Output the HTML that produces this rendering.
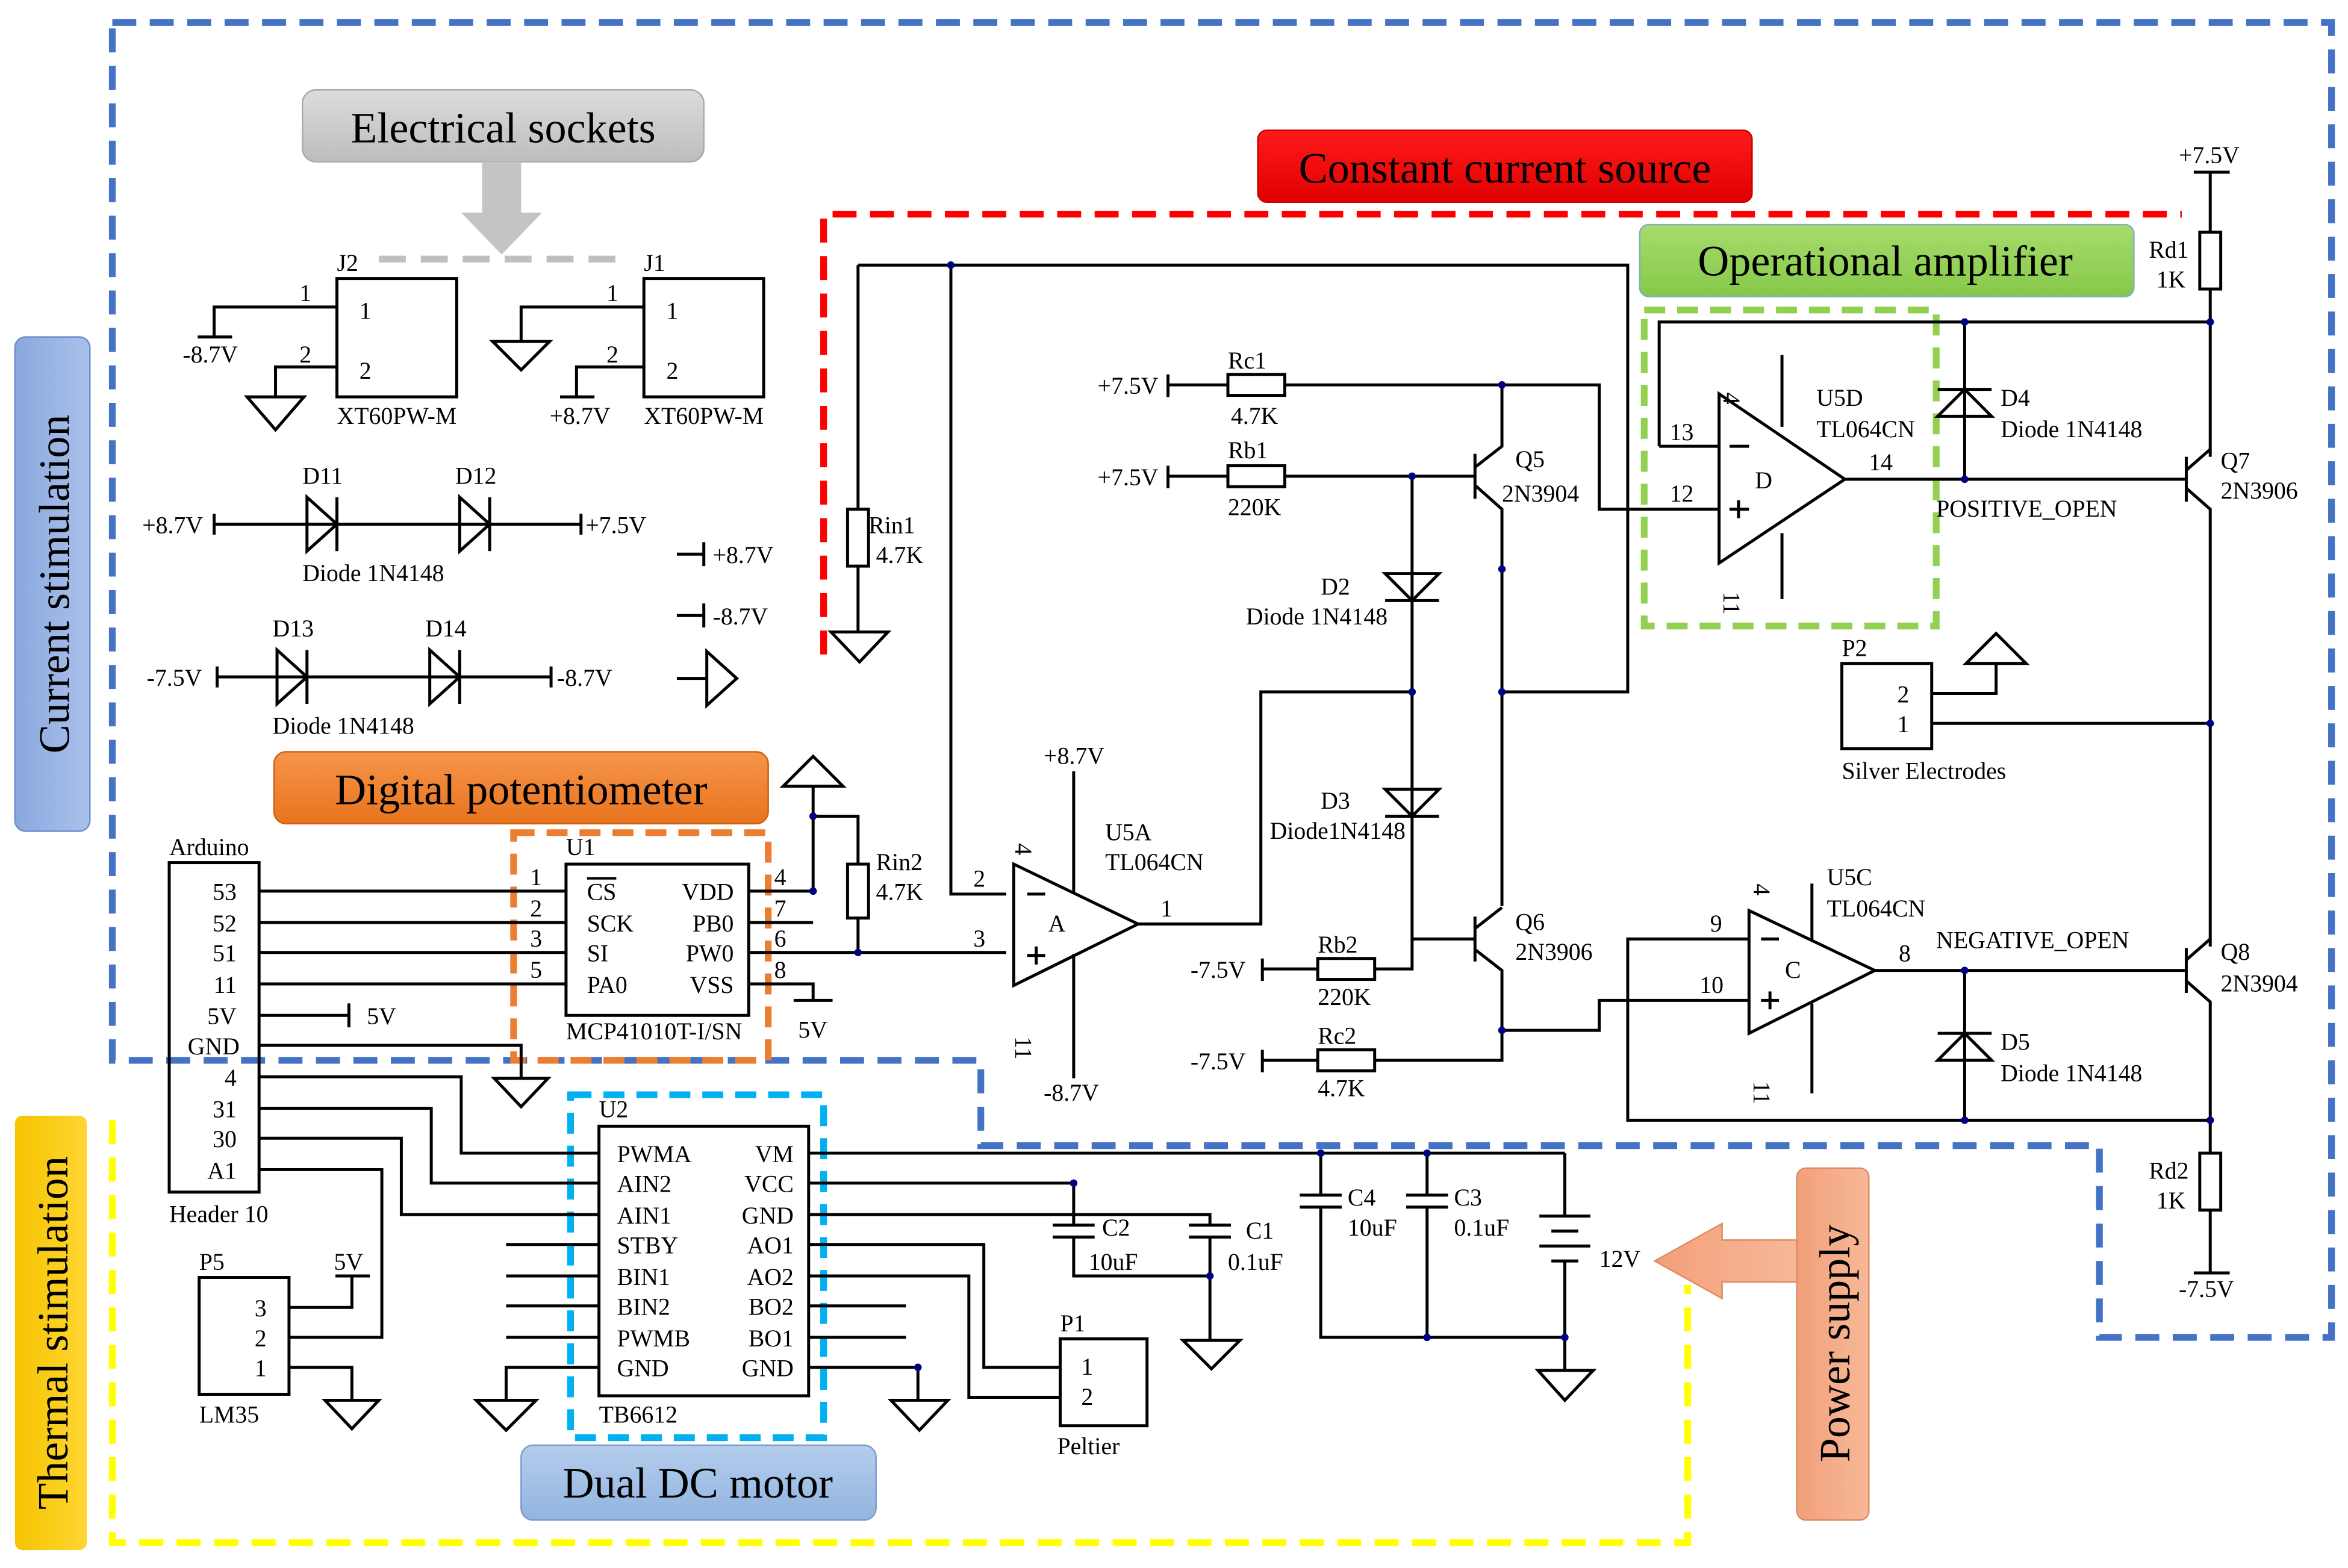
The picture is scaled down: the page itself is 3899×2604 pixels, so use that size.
<!DOCTYPE html>
<html><head><meta charset="utf-8"><style>
html,body{margin:0;padding:0;background:#fff;}
svg{display:block;}
text{font-family:"Liberation Serif",serif;fill:#000;}
</style></head><body>
<svg width="3899" height="2604" viewBox="0 0 1568 1047" preserveAspectRatio="none" xmlns="http://www.w3.org/2000/svg">
<defs>
<linearGradient id="gg" x1="0" y1="0" x2="0" y2="1"><stop offset="0" stop-color="#dcdcdc"/><stop offset="1" stop-color="#bdbdbd"/></linearGradient>
<linearGradient id="gr" x1="0" y1="0" x2="0" y2="1"><stop offset="0" stop-color="#ff1a1a"/><stop offset="1" stop-color="#e00000"/></linearGradient>
<linearGradient id="ggr" x1="0" y1="0" x2="0" y2="1"><stop offset="0" stop-color="#a6dc6a"/><stop offset="1" stop-color="#86c84a"/></linearGradient>
<linearGradient id="go" x1="0" y1="0" x2="0" y2="1"><stop offset="0" stop-color="#f5954a"/><stop offset="1" stop-color="#e8741e"/></linearGradient>
<linearGradient id="gb" x1="0" y1="0" x2="0" y2="1"><stop offset="0" stop-color="#b4cdec"/><stop offset="1" stop-color="#93b4e0"/></linearGradient>
<linearGradient id="gbv" x1="0" y1="0" x2="1" y2="0"><stop offset="0" stop-color="#8aa8de"/><stop offset="1" stop-color="#a9c0ea"/></linearGradient>
<linearGradient id="gy" x1="0" y1="0" x2="1" y2="0"><stop offset="0" stop-color="#f5c400"/><stop offset="1" stop-color="#ffd633"/></linearGradient>
<linearGradient id="gs" x1="0" y1="0" x2="1" y2="0"><stop offset="0" stop-color="#f2a07a"/><stop offset="1" stop-color="#f7b898"/></linearGradient>
</defs>

<!-- dashed region borders -->
<path d="M75,15 H1557 V893 H1402 V765 H655 V708 H75 Z" fill="none" stroke="#4472C4" stroke-width="4.5" stroke-dasharray="16,9"/>
<path d="M550,437 V143 H1457" fill="none" stroke="#ff0000" stroke-width="4.5" stroke-dasharray="16,9"/>
<rect x="1098" y="207" width="195" height="211" fill="none" stroke="#92D050" stroke-width="4.5" stroke-dasharray="14,8"/>
<rect x="343" y="556" width="170" height="152" fill="none" stroke="#ED7D31" stroke-width="4.5" stroke-dasharray="14,8"/>
<rect x="381" y="731" width="169" height="229" fill="none" stroke="#00B0F0" stroke-width="4.5" stroke-dasharray="14,8"/>
<path d="M75,748 V1030 H1127 V858" fill="none" stroke="#ffff00" stroke-width="4.5" stroke-dasharray="16,9"/>
<line x1="253" y1="173" x2="415" y2="173" stroke="#bfbfbf" stroke-width="4.5" stroke-dasharray="18,10"/>

<!-- Labels -->
<rect x="202" y="60" width="268" height="48" rx="9" fill="url(#gg)" stroke="#aaa"/>
<text x="336" y="95" font-size="29" text-anchor="middle">Electrical sockets</text>
<polygon points="322,108 348,108 348,142 362,142 335,170 308,142 322,142" fill="#c4c4c4"/>
<rect x="840" y="87" width="330" height="48" rx="6" fill="url(#gr)" stroke="#c00"/>
<text x="1005" y="122" font-size="29" text-anchor="middle">Constant current source</text>
<rect x="1095" y="150" width="330" height="48" rx="6" fill="url(#ggr)" stroke="#7fb0c0"/>
<text x="1259" y="184" font-size="29" text-anchor="middle">Operational amplifier</text>
<rect x="183" y="502" width="330" height="48" rx="8" fill="url(#go)" stroke="#d06010"/>
<text x="348" y="537" font-size="29" text-anchor="middle">Digital potentiometer</text>
<rect x="348" y="965" width="237" height="50" rx="8" fill="url(#gb)" stroke="#7a9cd0"/>
<text x="466" y="1000" font-size="29" text-anchor="middle">Dual DC motor</text>
<rect x="10" y="225" width="50" height="330" rx="7" fill="url(#gbv)" stroke="#6c8cd0"/>
<text transform="translate(46,390) rotate(-90)" font-size="29" text-anchor="middle">Current stimulation</text>
<rect x="10" y="745" width="48" height="290" rx="5" fill="url(#gy)"/>
<text transform="translate(45,890) rotate(-90)" font-size="29" text-anchor="middle">Thermal stimulation</text>
<rect x="1200" y="780" width="48" height="235" rx="6" fill="url(#gs)" stroke="#e08a60"/>
<text transform="translate(1235,897) rotate(-90)" font-size="29" text-anchor="middle">Power supply</text>
<polygon points="1200,828 1150,828 1150,817 1105,842 1150,867 1150,856 1200,856" fill="url(#gs)" stroke="#e08a60"/>

<g fill="none" stroke="#000" stroke-width="2">
<!-- J2 -->
<rect x="225" y="186" width="80" height="79"/>
<path d="M225,205 H143 V225 M132,225 H155"/>
<path d="M225,245 H184 V265"/>
<polygon points="165,265 203,265 184,287"/>
<!-- J1 -->
<rect x="430" y="186" width="80" height="79"/>
<path d="M430,205 H348 V228"/>
<polygon points="329,228 367,228 348,247"/>
<path d="M430,245 H385 V265 M374,265 H397"/>
<!-- D11 D12 row -->
<path d="M143,343 V357 M143,350 H388 M388,343 V357"/>
<polygon points="205,332 205,368 225,350"/><path d="M225,332 V368"/>
<polygon points="307,332 307,368 327,350"/><path d="M327,332 V368"/>
<!-- D13 D14 row -->
<path d="M145,445 V459 M145,452 H368 M368,445 V459"/>
<polygon points="185,434 185,470 205,452"/><path d="M205,434 V470"/>
<polygon points="287,434 287,470 307,452"/><path d="M307,434 V470"/>
<!-- power symbols -->
<path d="M452,370 H470 M470,362 V378 M452,411 H470 M470,403 V419 M452,453 H472"/>
<polygon points="472,435 472,471 492,453"/>

<!-- Arduino header -->
<rect x="113" y="576" width="60" height="220"/>
<path d="M173,595 H378 M173,616 H378 M173,636 H378 M173,657 H378"/>
<path d="M173,678 H233 M233,670 V686"/>
<path d="M173,698 H348 V720"/>
<polygon points="330,720 366,720 348,739"/>
<path d="M173,719 H308 V770 H400 M173,740 H288 V790 H400 M173,760 H268 V811 H400 M173,781 H255 V893 H193"/>
<!-- LM35 -->
<rect x="133" y="853" width="60" height="78"/>
<path d="M193,873 H235 V852 M224,852 H247"/>
<path d="M193,913 H235 V935"/>
<polygon points="217,935 253,935 235,954"/>

<!-- U1 -->
<rect x="378" y="577" width="122" height="101"/>
<path d="M500,595 H543 V525 M500,616 H543 M543,545 H573 V577 M573,613 V636 M500,636 H672"/>
<rect x="566" y="577" width="14" height="36"/>
<polygon points="523,525 563,525 543,505"/>
<path d="M500,657 H543 V668 M530,668 H556"/>

<!-- U2 -->
<rect x="400" y="752" width="140" height="180"/>
<path d="M338,831 H400 M338,852 H400 M338,872 H400 M338,893 H400 M400,913 H338 V935"/>
<polygon points="318,935 358,935 338,955"/>
<path d="M540,770 H1045 M540,790 H717 V818 M540,811 H808 V818 M540,831 H657 V913 H708 M540,852 H647 V933 H708 M540,872 H605 M540,893 H605 M540,913 H613 V935"/>
<polygon points="595,935 633,935 614,955"/>
<!-- C2 C1 -->
<path d="M703,818 H731 M703,826 H731 M717,826 V852 H808 M794,818 H822 M794,826 H822 M808,826 V895"/>
<polygon points="790,895 828,895 809,914"/>
<!-- Peltier -->
<rect x="708" y="894" width="58" height="58"/>
<!-- C4 C3 battery -->
<path d="M882,770 V798 M868,798 H896 M868,806 H896 M882,806 V893 H1045 M953,770 V798 M939,798 H967 M939,806 H967 M953,806 V893"/>
<path d="M1045,770 V812 M1028,812 H1062 M1036,822 H1054 M1028,832 H1062 M1036,842 H1054 M1045,842 V915"/>
<polygon points="1027,915 1064,915 1045,935"/>

<!-- Rin1 and top wire -->
<path d="M573,177 H1087 V462 H1003 M573,177 V340 M573,378 V422"/>
<rect x="566" y="340" width="14" height="38"/>
<polygon points="555,422 593,422 574,442"/>
<path d="M635,177 V597 H672"/>
<!-- Opamp A -->
<polygon points="677,577 677,658 760,617"/>
<path d="M760,617 H842 V462 H943 M717,515 V597 M717,637 V720"/>
<path d="M686,597 H698 M686,638 H698 M692,632 V644"/>
<!-- Diodes D2 D3 -->
<path d="M943,318 V647 H918"/>
<polygon points="925,383 961,383 943,401"/><path d="M925,401 H961"/>
<polygon points="925,527 961,527 943,545"/><path d="M925,545 H961"/>
<!-- Rc1 Rb1 -->
<path d="M780,250 V265 M780,257 H820 M858,257 H1068 V340 H1148 M780,311 V326 M780,318 H820 M858,318 H985"/>
<rect x="820" y="250" width="38" height="14"/>
<rect x="820" y="311" width="38" height="14"/>
<!-- Q5 -->
<path d="M985,303 V333 M985,312 L1003,298 V257 M985,324 L1003,340 V380 M1003,380 V605"/>
<!-- Q6 -->
<path d="M985,612 V642 M943,627 H985 M985,620 L1003,606 M985,634 L1003,648 V708 H918"/>
<path d="M1003,688 H1068 V668 H1168"/>
<!-- Rb2 Rc2 -->
<path d="M843,640 V655 M843,647 H880 M843,701 V716 M843,708 H880"/>
<rect x="880" y="640" width="38" height="14"/>
<rect x="880" y="701" width="38" height="14"/>
<!-- Opamp D -->
<polygon points="1148,263 1148,376 1232,320"/>
<path d="M1108,298 H1148 M1108,298 V215 H1476 M1190,237 V285 M1190,356 V400 M1232,320 H1460"/>
<path d="M1155,298 H1168 M1155,340 H1168 M1161,334 V346"/>
<!-- D4 -->
<path d="M1312,215 V320"/>
<polygon points="1294,278 1330,278 1312,260"/><path d="M1294,260 H1330"/>
<!-- Q7 / right rail -->
<path d="M1476,115 V155 M1465,115 H1489 M1476,193 V305 M1460,305 V335 M1460,314 L1476,300 M1460,326 L1476,340 V632 M1460,633 V663 M1460,641 L1476,627 M1460,655 L1476,669 V770 M1476,808 V850 M1465,850 H1489"/>
<rect x="1469" y="155" width="14" height="38"/>
<rect x="1469" y="770" width="14" height="38"/>
<!-- P2 -->
<rect x="1230" y="443" width="60" height="57"/>
<path d="M1290,463 H1333 V443 M1290,483 H1476"/>
<polygon points="1313,443 1353,443 1333,423"/>
<!-- Opamp C -->
<polygon points="1168,608 1168,690 1252,648"/>
<path d="M1168,627 H1087 V748 H1476 M1252,648 H1460 M1210,590 V628 M1210,670 V730"/>
<path d="M1176,627 H1188 M1176,668 H1188 M1182,662 V674"/>
<path d="M1312,648 V748"/>
<polygon points="1294,708 1330,708 1312,690"/><path d="M1294,690 H1330"/>
</g>
<!-- junction dots -->
<g fill="#000080">
<circle cx="635" cy="177" r="2.5"/><circle cx="943" cy="318" r="2.5"/><circle cx="1003" cy="257" r="2.5"/>
<circle cx="1003" cy="380" r="2.5"/><circle cx="1003" cy="462" r="2.5"/><circle cx="943" cy="462" r="2.5"/>
<circle cx="1312" cy="215" r="2.5"/><circle cx="1312" cy="320" r="2.5"/><circle cx="1476" cy="215" r="2.5"/>
<circle cx="1476" cy="483" r="2.5"/><circle cx="1312" cy="648" r="2.5"/><circle cx="1312" cy="748" r="2.5"/>
<circle cx="1476" cy="748" r="2.5"/><circle cx="1003" cy="688" r="2.5"/><circle cx="573" cy="636" r="2.5"/>
<circle cx="543" cy="545" r="2.5"/><circle cx="543" cy="595" r="2.5"/><circle cx="717" cy="790" r="2.5"/>
<circle cx="808" cy="852" r="2.5"/><circle cx="953" cy="893" r="2.5"/><circle cx="1045" cy="893" r="2.5"/>
<circle cx="953" cy="770" r="2.5"/><circle cx="882" cy="770" r="2.5"/><circle cx="613" cy="913" r="2.5"/>
</g>

<!-- text labels -->
<g font-size="16">
<text x="225" y="181">J2</text><text x="430" y="181">J1</text>
<text x="200" y="201">1</text><text x="200" y="242">2</text><text x="240" y="213">1</text><text x="240" y="253">2</text>
<text x="405" y="201">1</text><text x="405" y="242">2</text><text x="445" y="213">1</text><text x="445" y="253">2</text>
<text x="122" y="242">-8.7V</text><text x="225" y="283">XT60PW-M</text>
<text x="367" y="283">+8.7V</text><text x="430" y="283">XT60PW-M</text>
<text x="202" y="323">D11</text><text x="304" y="323">D12</text>
<text x="95" y="356">+8.7V</text><text x="391" y="356">+7.5V</text>
<text x="202" y="388">Diode 1N4148</text>
<text x="182" y="425">D13</text><text x="284" y="425">D14</text>
<text x="98" y="458">-7.5V</text><text x="372" y="458">-8.7V</text>
<text x="182" y="490">Diode 1N4148</text>
<text x="476" y="376">+8.7V</text><text x="476" y="417">-8.7V</text>
<text x="113" y="571">Arduino</text>
<g text-anchor="end"><text x="158" y="601">53</text><text x="158" y="622">52</text><text x="158" y="642">51</text><text x="158" y="663">11</text><text x="158" y="684">5V</text><text x="160" y="704">GND</text><text x="158" y="725">4</text><text x="158" y="746">31</text><text x="158" y="766">30</text><text x="158" y="787">A1</text></g>
<text x="113" y="816">Header 10</text>
<text x="245" y="684">5V</text>
<text x="378" y="571">U1</text>
<text x="354" y="591">1</text><text x="354" y="612">2</text><text x="354" y="632">3</text><text x="354" y="653">5</text>
<text x="392" y="601" text-decoration="overline">CS</text><text x="392" y="622">SCK</text><text x="392" y="642">SI</text><text x="392" y="663">PA0</text>
<g text-anchor="end"><text x="490" y="601">VDD</text><text x="490" y="622">PB0</text><text x="490" y="642">PW0</text><text x="490" y="663">VSS</text></g>
<text x="517" y="591">4</text><text x="517" y="612">7</text><text x="517" y="632">6</text><text x="517" y="653">8</text>
<text x="533" y="693">5V</text>
<text x="378" y="694">MCP41010T-I/SN</text>
<text x="585" y="581">Rin2</text><text x="585" y="601">4.7K</text>
<text x="580" y="356">Rin1</text><text x="585" y="376">4.7K</text>
<text x="400" y="746">U2</text>
<text x="412" y="776">PWMA</text><text x="412" y="796">AIN2</text><text x="412" y="817">AIN1</text><text x="412" y="837">STBY</text><text x="412" y="858">BIN1</text><text x="412" y="878">BIN2</text><text x="412" y="899">PWMB</text><text x="412" y="919">GND</text>
<g text-anchor="end"><text x="530" y="776">VM</text><text x="530" y="796">VCC</text><text x="530" y="817">GND</text><text x="530" y="837">AO1</text><text x="530" y="858">AO2</text><text x="530" y="878">BO2</text><text x="530" y="899">BO1</text><text x="530" y="919">GND</text></g>
<text x="400" y="950">TB6612</text>
<text x="133" y="848">P5</text><text x="223" y="848">5V</text>
<text x="170" y="879">3</text><text x="170" y="899">2</text><text x="170" y="919">1</text>
<text x="133" y="950">LM35</text>
<text x="736" y="825">C2</text><text x="727" y="848">10uF</text>
<text x="832" y="827">C1</text><text x="820" y="848">0.1uF</text>
<text x="900" y="805">C4</text><text x="900" y="825">10uF</text>
<text x="971" y="805">C3</text><text x="971" y="825">0.1uF</text>
<text x="1068" y="846">12V</text>
<text x="708" y="889">P1</text><text x="722" y="918">1</text><text x="722" y="938">2</text>
<text x="706" y="971">Peltier</text>
<text x="697" y="510">+8.7V</text><text x="697" y="735">-8.7V</text>
<text x="650" y="592">2</text><text x="650" y="632">3</text><text x="775" y="612">1</text>
<text x="700" y="622">A</text>
<text transform="translate(678,563) rotate(90)">4</text>
<text transform="translate(678,692) rotate(90)">11</text>
<text x="738" y="561">U5A</text><text x="738" y="581">TL064CN</text>
<text x="733" y="263">+7.5V</text><text x="733" y="324">+7.5V</text>
<text x="820" y="246">Rc1</text><text x="822" y="283">4.7K</text>
<text x="820" y="306">Rb1</text><text x="820" y="344">220K</text>
<text x="1012" y="312">Q5</text><text x="1003" y="335">2N3904</text>
<text x="882" y="397">D2</text><text x="832" y="417">Diode 1N4148</text>
<text x="882" y="540">D3</text><text x="848" y="560">Diode1N4148</text>
<text x="1012" y="621">Q6</text><text x="1012" y="641">2N3906</text>
<text x="795" y="653">-7.5V</text><text x="795" y="714">-7.5V</text>
<text x="880" y="636">Rb2</text><text x="880" y="671">220K</text>
<text x="880" y="697">Rc2</text><text x="880" y="732">4.7K</text>
<text x="1115" y="294">13</text><text x="1115" y="335">12</text><text x="1248" y="314">14</text>
<text x="1172" y="326">D</text>
<text transform="translate(1151,262) rotate(90)">4</text>
<text transform="translate(1151,395) rotate(90)">11</text>
<text x="1213" y="271">U5D</text><text x="1213" y="292">TL064CN</text>
<text x="1336" y="271">D4</text><text x="1336" y="292">Diode 1N4148</text>
<text x="1293" y="345">POSITIVE_OPEN</text>
<text x="1483" y="313">Q7</text><text x="1483" y="333">2N3906</text>
<text x="1455" y="109">+7.5V</text>
<text x="1435" y="172">Rd1</text><text x="1440" y="192">1K</text>
<text x="1230" y="438">P2</text><text x="1267" y="469">2</text><text x="1267" y="489">1</text>
<text x="1230" y="520">Silver Electrodes</text>
<text x="1142" y="622">9</text><text x="1135" y="663">10</text><text x="1268" y="642">8</text>
<text x="1192" y="653">C</text>
<text transform="translate(1171,590) rotate(90)">4</text>
<text transform="translate(1171,722) rotate(90)">11</text>
<text x="1220" y="591">U5C</text><text x="1220" y="612">TL064CN</text>
<text x="1293" y="633">NEGATIVE_OPEN</text>
<text x="1483" y="641">Q8</text><text x="1483" y="662">2N3904</text>
<text x="1336" y="701">D5</text><text x="1336" y="722">Diode 1N4148</text>
<text x="1435" y="787">Rd2</text><text x="1440" y="807">1K</text>
<text x="1455" y="866">-7.5V</text>
</g>
</svg>
</body></html>
